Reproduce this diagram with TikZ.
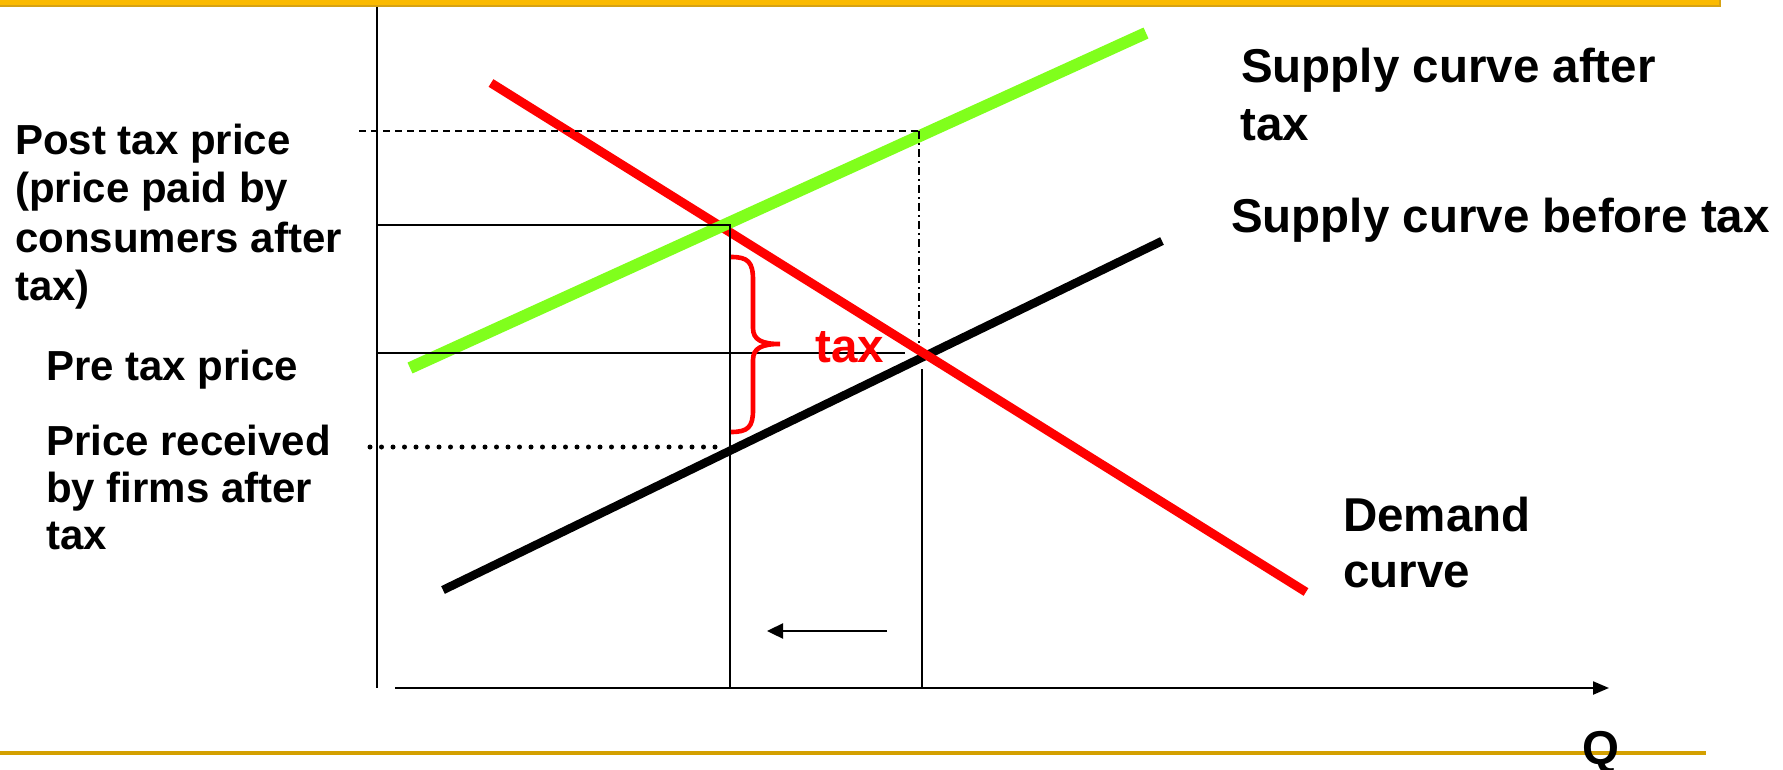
\documentclass[tikz,border=0pt]{standalone}
\usepackage{fontspec}
\setmainfont{Liberation Sans}
\usetikzlibrary{arrows.meta}
\definecolor{barorange}{RGB}{251,186,0}
\definecolor{bardark}{RGB}{214,162,20}
\definecolor{goldline}{RGB}{212,160,0}
\definecolor{limegreen}{RGB}{128,255,28}
\definecolor{taxred}{RGB}{255,0,0}
\tikzset{
  lblS/.style={font=\fontsize{42}{48}\selectfont\bfseries, inner sep=0pt, anchor=base west},
  lblL/.style={font=\fontsize{47.5}{58}\selectfont\bfseries, inner sep=0pt, anchor=base west},
  thin guide/.style={line width=2pt, black},
  axisline/.style={line width=2.2pt, black},
  curve green/.style={line width=12pt, limegreen},
  curve red/.style={line width=9pt, taxred},
  curve black/.style={line width=8.5pt, black},
}
\begin{document}
\begin{tikzpicture}[x=1pt,y=-1pt]
\useasboundingbox (0,0) rectangle (1783,770);
% frame decorations
\fill[barorange] (0,0) rectangle (1720,6);
\draw[bardark, line width=1.5pt] (0,6) -- (1720,6) -- (1720,0);
\draw[goldline, line width=4.5pt] (0,753) -- (1706,753);

% key coordinates
\coordinate (ytop) at (377,7);
\coordinate (ybot) at (377,688);
\coordinate (xl) at (395,688);
\coordinate (xr) at (1609,688);
\coordinate (g1) at (410,368);
\coordinate (g2) at (1146,33);
\coordinate (r1) at (491,83);
\coordinate (r2) at (1306,592);
\coordinate (b1) at (443,590);
\coordinate (b2) at (1162,241);
\coordinate (postL) at (377,225);
\coordinate (postC) at (730,225);
\coordinate (postB) at (730,688);
\coordinate (preL) at (377,353);
\coordinate (preR) at (905,353);
\coordinate (eqT) at (922,369);
\coordinate (eqB) at (922,688);
\coordinate (dashL) at (359,131);
\coordinate (dashR) at (919,131);
\coordinate (dashB) at (919,343);
\coordinate (dotL) at (370,447);
\coordinate (dotR) at (722,447);
\coordinate (arS) at (887,631);
\coordinate (arE) at (767,631);

% curves
\draw[curve black] (b1) -- (b2);
\draw[curve red] (r1) -- (r2);
\draw[curve green] (g1) -- (g2);

% axes
\draw[axisline] (ytop) -- (ybot);
\draw[axisline, -{Triangle[length=16pt,width=13pt]}] (xl) -- (xr);

% guides
\draw[thin guide] (postL) -- (postC) -- (postB);
\draw[thin guide] (preL) -- (preR);
\draw[thin guide] (eqT) -- (eqB);
\draw[line width=1.8pt, dash pattern=on 7pt off 5pt] (dashL) -- (dashR);
\draw[line width=1.8pt, dash pattern=on 8pt off 4pt on 2pt off 4pt] (dashR) -- (dashB);
\draw[line width=5pt, line cap=round, dash pattern=on 0pt off 11.5pt] (dotL) -- (dotR);
\draw[line width=2.4pt, -{Triangle[length=16pt,width=15pt]}] (arS) -- (arE);

% brace
\draw[taxred, line width=4.6pt] (731,257) .. controls (748,257) and (753,262) .. (753,280)
  -- (753,328) .. controls (753,340) and (762,344) .. (780,344)
  .. controls (762,344) and (753,348) .. (753,360)
  -- (753,410) .. controls (753,427) and (748,432) .. (731,432);
\node[lblL, text=taxred] (taxlbl) at (815,362) {tax};

% left labels
\node[lblS] (post1) at (15,155) {Post tax price};
\node[lblS] (post2) at (15,203) {(price paid by};
\node[lblS] (post3) at (15,252) {consumers after};
\node[lblS] (post4) at (15,300) {tax)};
\node[lblS] (pre) at (46,380) {Pre tax price};
\node[lblS] (rec1) at (46,455) {Price received};
\node[lblS] (rec2) at (46,502) {by firms after};
\node[lblS] (rec3) at (46,549) {tax};

% right labels
\node[lblL] (sa1) at (1241,83) {Supply curve after};
\node[lblL] (sa2) at (1240,141) {tax};
\node[lblL] (sb) at (1231,233) {Supply curve before tax};
\node[lblL] (d1) at (1343,531) {Demand};
\node[lblL] (d2) at (1343,587) {curve};
\node[lblL, anchor=base] (q) at (1601,764) {Q};
\end{tikzpicture}
\end{document}
